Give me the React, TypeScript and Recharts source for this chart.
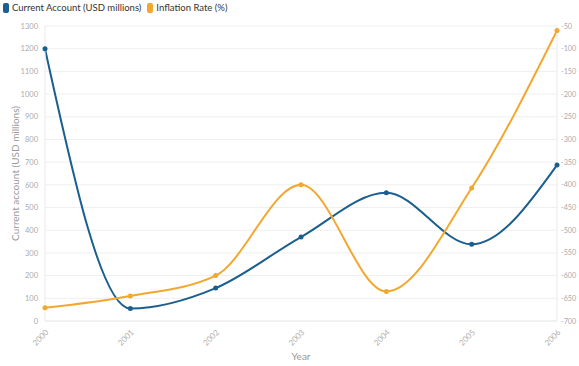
import { CartesianGrid, Line, LineChart, XAxis, YAxis } from "recharts";

const years = ["2000", "2001", "2002", "2003", "2004", "2005", "2006"];
const currentAccount = [1200, 55, 145, 370, 565, 338, 687];
const inflationRate = [-671, -645, -600, -400, -635, -407, -60];
const leftTicks = [0, 100, 200, 300, 400, 500, 600, 700, 800, 900, 1000, 1100, 1200, 1300];
const rightTicks = [-700, -650, -600, -550, -500, -450, -400, -350, -300, -250, -200, -150, -100, -50];

const BLUE = "#1b5f8f";
const ORANGE = "#f2a82f";
const FONT = "Lato, 'Open Sans', sans-serif";

const data = years.map((year, i) => ({
  year,
  current: currentAccount[i],
  inflation: inflationRate[i],
}));

function LegendBox() {
  const items = [
    { label: "Current Account (USD millions)", color: BLUE },
    { label: "Inflation Rate (%)", color: ORANGE },
  ];
  return (
    <div
      style={{
        position: "absolute",
        top: 2,
        left: 3,
        display: "flex",
        gap: 6,
        fontFamily: FONT,
        fontSize: 9.5,
        color: "#333",
      }}
    >
      {items.map((it) => (
        <span key={it.label} style={{ display: "flex", alignItems: "center", gap: 3 }}>
          <span style={{ width: 6, height: 10, borderRadius: 2, background: it.color, display: "inline-block" }} />
          {it.label}
        </span>
      ))}
    </div>
  );
}

export default function App() {
  return (
    <div style={{ position: "absolute", left: 0, top: 0, width: 579, height: 366, background: "#fff" }}>
      <LegendBox />
      <LineChart width={579} height={366} data={data} margin={{ top: 26, right: 0, bottom: 0, left: 0 }}>
        <CartesianGrid yAxisId="left" vertical={false} stroke="#efefef" />
        <XAxis
          dataKey="year"
          height={45}
          stroke="#eaeaea"
          tickLine={false}
          interval={0}
          tick={{ fill: "#b0b0b0", fontSize: 8, fontFamily: FONT, angle: -45, textAnchor: "end" }}
          label={{ value: "Year", position: "insideBottom", offset: 6, fill: "#999", fontSize: 10, fontFamily: FONT }}
        />
        <YAxis
          yAxisId="left"
          width={45}
          domain={[0, 1300]}
          ticks={leftTicks}
          interval={0}
          stroke="#eaeaea"
          tickLine={false}
          tickSize={5}
          tick={{ fill: "#aaa", fontSize: 7.5, fontFamily: FONT }}
          label={{
            value: "Current account (USD millions)",
            angle: -90,
            position: "insideLeft",
            offset: 15,
            style: { textAnchor: "middle", fill: "#999", fontSize: 10, fontFamily: FONT },
          }}
        />
        <YAxis
          yAxisId="right"
          orientation="right"
          width={22}
          domain={[-700, -50]}
          ticks={rightTicks}
          interval={0}
          stroke="#eaeaea"
          tickLine={false}
          tickSize={2}
          tick={{ fill: "#aaa", fontSize: 7.2, fontFamily: FONT }}
        />
        <Line
          yAxisId="left"
          type="monotone"
          dataKey="current"
          stroke={BLUE}
          strokeWidth={2}
          dot={{ r: 2.5, fill: BLUE, stroke: BLUE, strokeWidth: 0 }}
          isAnimationActive={false}
        />
        <Line
          yAxisId="right"
          type="monotone"
          dataKey="inflation"
          stroke={ORANGE}
          strokeWidth={2}
          dot={{ r: 2.5, fill: ORANGE, stroke: ORANGE, strokeWidth: 0 }}
          isAnimationActive={false}
        />
      </LineChart>
    </div>
  );
}
